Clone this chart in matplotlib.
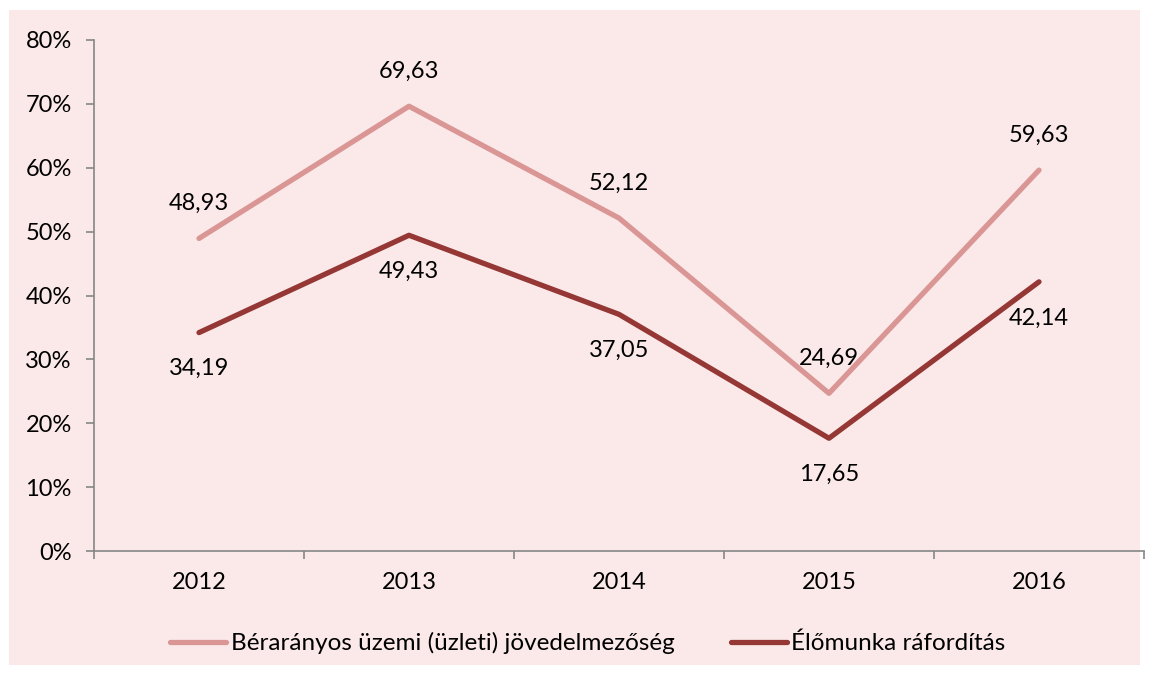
import matplotlib.pyplot as plt
from matplotlib.ticker import FuncFormatter

years = ['2012', '2013', '2014', '2015', '2016']
jovedelmezoseg = [48.93, 69.63, 52.12, 24.69, 59.63]
raforditas = [34.19, 49.43, 37.05, 17.65, 42.14]

c_light = '#d99694'
c_dark = '#953735'
axis_c = '#868686'

plt.rcParams['font.family'] = ['Lato', 'DejaVu Sans']

fig = plt.figure(figsize=(11.49, 6.75), dpi=100)

# pink chart area behind everything
bg = fig.add_axes([9 / 1149, 1 - 665 / 675, 1131 / 1149, 655 / 675], zorder=-1)
bg.set_facecolor('#fbe9e9')
bg.set_xticks([])
bg.set_yticks([])
for s in bg.spines.values():
    s.set_visible(False)

ax = fig.add_axes([94 / 1149, 1 - 551 / 675, 1050 / 1149, 511 / 675])
ax.patch.set_visible(False)

x = list(range(len(years)))
ax.plot(x, jovedelmezoseg, color=c_light, lw=3.8, solid_capstyle='round',
        label='Bérarányos üzemi (üzleti) jövedelmezőség')
ax.plot(x, raforditas, color=c_dark, lw=3.8, solid_capstyle='round',
        label='Élőmunka ráfordítás')

def fmt(v):
    return f'{v:.2f}'.replace('.', ',')

for xi, v in zip(x, jovedelmezoseg):
    ax.annotate(fmt(v), (xi, v), xytext=(0, 25), textcoords='offset points',
                ha='center', va='center', fontsize=17)
for xi, v in zip(x, raforditas):
    ax.annotate(fmt(v), (xi, v), xytext=(0, -26), textcoords='offset points',
                ha='center', va='center', fontsize=17)

ax.set_xlim(-0.5, 4.5)
ax.set_ylim(0, 80)
ax.set_yticks(range(0, 81, 10))
ax.yaxis.set_major_formatter(FuncFormatter(lambda v, p: f'{int(v)}%'))
ax.set_xticks(x)
ax.set_xticklabels(years)
ax.set_xticks([i - 0.5 for i in range(6)], minor=True)
ax.tick_params(axis='x', which='major', length=0, pad=15, labelsize=17)
ax.tick_params(axis='x', which='minor', length=6, color=axis_c, width=1.2)
ax.tick_params(axis='y', length=6, color=axis_c, width=1.2, pad=10, labelsize=17)

for s in ['top', 'right']:
    ax.spines[s].set_visible(False)
for s in ['left', 'bottom']:
    ax.spines[s].set_color(axis_c)
    ax.spines[s].set_linewidth(1.2)

fig.legend(loc='center', bbox_to_anchor=(588 / 1149, 1 - 643 / 675), ncol=2,
           frameon=False, fontsize=17.5, handlelength=2.3, handletextpad=0.2,
           columnspacing=2.3)

fig.savefig('out.png', dpi=100, facecolor='white')
